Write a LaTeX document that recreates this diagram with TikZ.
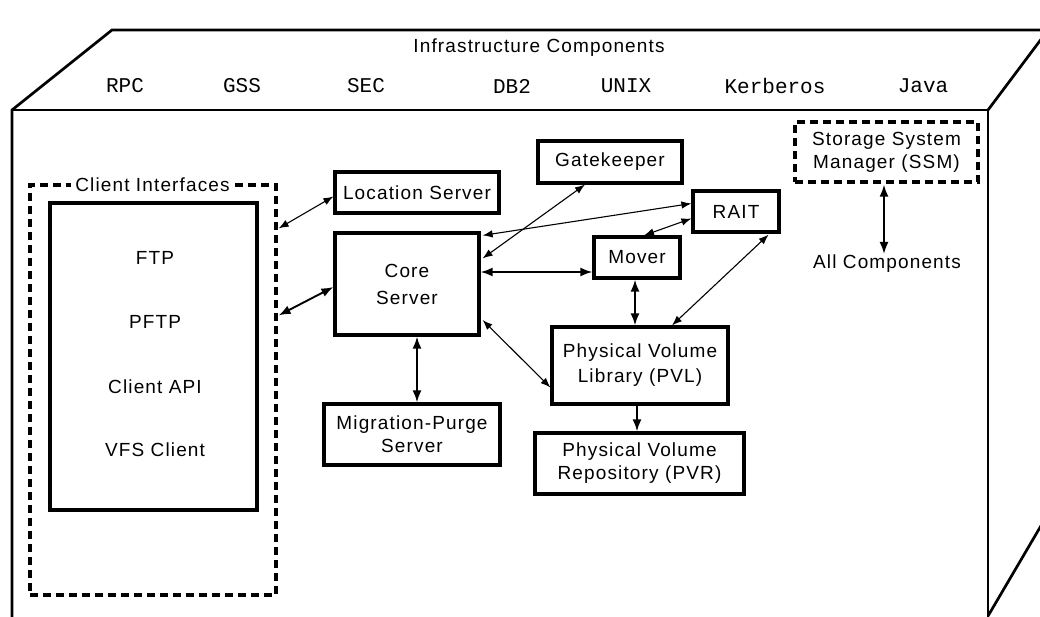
\documentclass[tikz,border=0pt]{standalone}
\usepackage{fontspec}
\setmainfont{Liberation Sans}[LetterSpace=6]
\newfontfamily\codefont{Liberation Mono}
\usetikzlibrary{arrows.meta,calc}

\begin{document}
\begin{tikzpicture}[x=1pt,y=-1pt,
  shell/.style={line width=2.7pt, line join=miter},
  box/.style={draw, line width=3.2pt, rectangle, inner sep=0pt, align=center,
              font=\fontsize{19}{23}\selectfont},
  dbox/.style={box, dash pattern=on 8pt off 5pt},
  lbl/.style={inner sep=0pt, align=center, font=\fontsize{19}{23}\selectfont},
  infra/.style={inner sep=0pt, font=\codefont\fontsize{21}{24}\selectfont},
  tip/.tip={Latex[length=10pt,width=7.5pt]},
  btip/.tip={Latex[length=12pt,width=9pt]},
  link/.style={line width=1.1pt, tip-tip},
  blink/.style={line width=1.9pt, btip-btip},
]
\useasboundingbox (0,0) rectangle (1040,616);

% outer cabinet (front face and top)
\begin{scope}
  \clip (0,0) rectangle (1040,616);
  \draw[shell] (12,640) -- (12,110) -- (112,30) -- (1060,30);
  \draw[shell] (12,110) -- (988,110) -- (988,640);
  \draw[shell] (988,110) -- (1060,14);
  \draw[shell] (988,616) -- (1042,524);
\end{scope}

% infrastructure layer on top
\node[lbl] (infra) at (539,48) {Infrastructure Components};
\node[infra] (rpc)  at (125,86) {RPC};
\node[infra] (gss)  at (242,86) {GSS};
\node[infra] (sec)  at (366,86) {SEC};
\node[infra] (db2)  at (512,86) {DB2};
\node[infra] (unix) at (626,86) {UNIX};
\node[infra] (krb)  at (775,86) {Kerberos};
\node[infra] (java) at (923,86) {Java};

% client interfaces
\node[dbox, minimum width=246pt, minimum height=410pt] (client) at (153,390) {};
\node[lbl, fill=white, inner xsep=4pt, inner ysep=2pt] (clientlbl) at (152.5,185) {Client Interfaces};
\node[box, minimum width=207pt, minimum height=307pt] (clients) at (153.5,356.5) {};
\node[lbl] (ftp)  at (155,258) {FTP};
\node[lbl] (pftp) at (155,322) {PFTP};
\node[lbl] (capi) at (155,387) {Client API};
\node[lbl] (vfs)  at (155,450) {VFS Client};

% servers
\node[box, minimum width=164pt, minimum height=41pt] (loc) at (417,192.5) {Location Server};
\node[box, minimum width=144pt, minimum height=102pt, font=\fontsize{19}{27}\selectfont] (core) at (407,284) {Core\\Server};
\node[box, minimum width=176pt, minimum height=61pt] (mig) at (412,434.5) {Migration-Purge\\Server};
\node[box, minimum width=144pt, minimum height=42pt] (gate) at (610,162) {Gatekeeper};
\node[box, minimum width=86pt, minimum height=41pt] (rait) at (736,211.5) {RAIT};
\node[box, minimum width=86pt, minimum height=41pt] (mover) at (637,257.5) {Mover};
\node[box, minimum width=176pt, minimum height=77pt, font=\fontsize{19}{25}\selectfont] (pvl) at (640,365.5) {Physical Volume\\Library (PVL)};
\node[box, minimum width=209pt, minimum height=61pt] (pvr) at (639.5,463.5) {Physical Volume\\Repository (PVR)};
\node[dbox, minimum width=183pt, minimum height=60pt] (ssm) at (886.5,152) {Storage System\\Manager (SSM)};
\node[lbl] (allc) at (887,264) {All Components};

% connections
\draw[link]  ($(client.north east)+(1,45)$) -- ($(loc.west)+(0,4)$);
\draw[blink] ($(client.north east)+(1,132)$) -- ($(core.west)+(0,3)$);
\draw[link]  ($(core.north east)+(2,27)$) -- ($(gate.south)+(-25,0)$);
\draw[link]  ($(core.north east)+(2,4)$) -- ($(rait.west)+(0,-8)$);
\draw[link]  ($(rait.west)+(0,7)$) -- ($(mover.north)+(7,0)$);
\draw[blink] ($(core.east)+(0,-12)$) -- ($(mover.west)+(0,14.5)$);
\draw[blink] ($(mover.south)+(-2,0)$) -- ($(pvl.north)+(-5,0)$);
\draw[link]  ($(rait.south east)+(-12,1)$) -- ($(pvl.north)+(32,0)$);
\draw[link]  ($(core.east)+(2,36)$) -- ($(pvl.west)+(0,22)$);
\draw[blink] ($(core.south)+(10,0)$) -- ($(mig.north)+(5,0)$);
\draw[blink, -btip] ($(pvl.south)+(-3,0)$) -- ($(pvr.north)+(-2.5,0)$);
\draw[blink] ($(ssm.south)+(-2.5,1)$) -- ($(allc.north)+(-3,-1)$);
\end{tikzpicture}
\end{document}
